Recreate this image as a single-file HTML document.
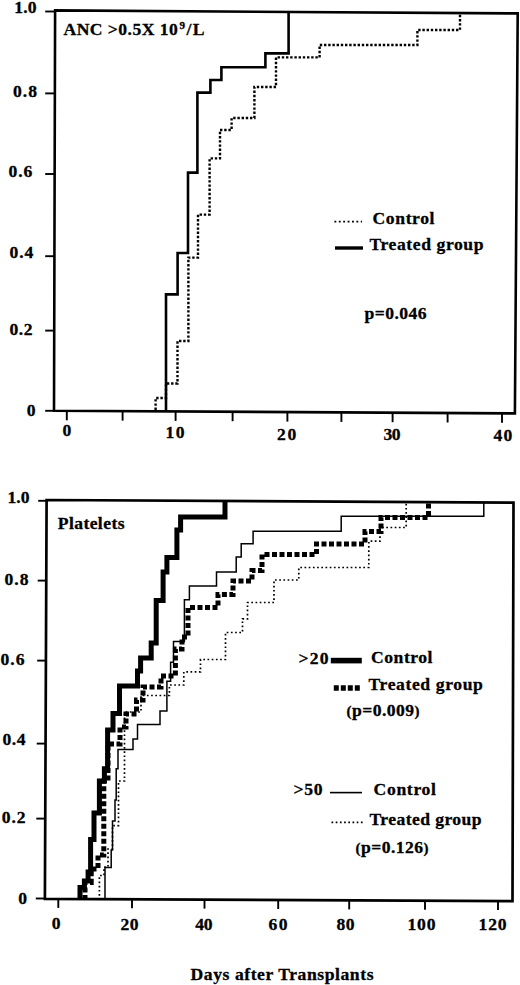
<!DOCTYPE html><html><head><meta charset="utf-8"><style>html,body{margin:0;padding:0;background:#fff;}svg{display:block;}text{font-weight:bold;fill:#000;stroke:#000;stroke-width:0.3px;}</style></head><body>
<svg width="520" height="985" viewBox="0 0 520 985">
<rect width="520" height="985" fill="#fff"/>
<polygon points="55.1,10.4 517.7,13.4 514.9,413.4 54.0,410.7" fill="none" stroke="#000" stroke-width="2.6" stroke-linejoin="miter"/>
<line x1="45.2" y1="11.5" x2="55.1" y2="11.5" stroke="#000" stroke-width="1.9"/>
<line x1="45.2" y1="93.4" x2="54.9" y2="93.4" stroke="#000" stroke-width="1.9"/>
<line x1="45.2" y1="174.0" x2="54.7" y2="174.0" stroke="#000" stroke-width="1.9"/>
<line x1="45.2" y1="256.2" x2="54.4" y2="256.2" stroke="#000" stroke-width="1.9"/>
<line x1="45.2" y1="330.6" x2="54.2" y2="330.6" stroke="#000" stroke-width="1.9"/>
<line x1="45.2" y1="410.8" x2="54.0" y2="410.8" stroke="#000" stroke-width="1.9"/>
<line x1="66.8" y1="410.8" x2="66.8" y2="420.3" stroke="#000" stroke-width="1.9"/>
<line x1="122.6" y1="411.1" x2="122.6" y2="420.6" stroke="#000" stroke-width="1.9"/>
<line x1="175.6" y1="411.4" x2="175.6" y2="420.9" stroke="#000" stroke-width="1.9"/>
<line x1="232.6" y1="411.7" x2="232.6" y2="421.2" stroke="#000" stroke-width="1.9"/>
<line x1="287.4" y1="412.1" x2="287.4" y2="421.6" stroke="#000" stroke-width="1.9"/>
<line x1="341.4" y1="412.4" x2="341.4" y2="421.9" stroke="#000" stroke-width="1.9"/>
<line x1="392.6" y1="412.7" x2="392.6" y2="422.2" stroke="#000" stroke-width="1.9"/>
<line x1="447.6" y1="413.0" x2="447.6" y2="422.5" stroke="#000" stroke-width="1.9"/>
<line x1="502.0" y1="413.3" x2="502.0" y2="422.8" stroke="#000" stroke-width="1.9"/>
<polyline points="166.0,411.0 166.0,294.4 177.6,294.4 177.6,253.0 188.0,253.0 188.0,172.6 197.4,172.6 197.4,92.6 210.4,92.6 210.4,80.0 221.4,80.0 221.4,67.3 265.4,67.3 265.4,53.4 288.6,53.4 288.6,11.5" fill="none" stroke="#000" stroke-width="2.6" stroke-linejoin="miter"/>
<polyline points="155.6,410.0 155.6,398.0 166.0,398.0 166.0,383.5 177.5,383.5 177.5,341.0 188.4,341.0 188.4,257.6 198.0,257.6 198.0,214.6 209.6,214.6 209.6,158.4 220.0,158.4 220.0,130.0 231.6,130.0 231.6,118.0 254.4,118.0 254.4,87.0 276.0,87.0 276.0,57.4 319.6,57.4 319.6,45.0 417.4,45.0 417.4,30.0 460.0,30.0 460.0,14.0" fill="none" stroke="#000" stroke-width="2.4" stroke-dasharray="2.4 1.8"/>
<line x1="334.4" y1="221.6" x2="362" y2="221.6" stroke="#000" stroke-width="1.9" stroke-dasharray="1.9 2.5"/>
<line x1="335" y1="248" x2="363" y2="248" stroke="#000" stroke-width="3.4"/>
<polygon points="46.6,500.0 513.5,502.7 512.5,901.2 44.9,898.8" fill="none" stroke="#000" stroke-width="2.7" stroke-linejoin="miter"/>
<line x1="38.2" y1="500.8" x2="46.6" y2="500.8" stroke="#000" stroke-width="1.9"/>
<line x1="37.7" y1="580.6" x2="46.3" y2="580.6" stroke="#000" stroke-width="1.9"/>
<line x1="37.2" y1="660.6" x2="45.9" y2="660.6" stroke="#000" stroke-width="1.9"/>
<line x1="36.7" y1="743.6" x2="45.6" y2="743.6" stroke="#000" stroke-width="1.9"/>
<line x1="36.3" y1="818.6" x2="45.2" y2="818.6" stroke="#000" stroke-width="1.9"/>
<line x1="35.8" y1="898.5" x2="44.9" y2="898.5" stroke="#000" stroke-width="1.9"/>
<line x1="58.3" y1="898.9" x2="58.3" y2="907.9" stroke="#000" stroke-width="1.9"/>
<line x1="132.0" y1="899.2" x2="132.0" y2="908.2" stroke="#000" stroke-width="1.9"/>
<line x1="204.5" y1="899.6" x2="204.5" y2="908.6" stroke="#000" stroke-width="1.9"/>
<line x1="278.2" y1="900.0" x2="278.2" y2="909.0" stroke="#000" stroke-width="1.9"/>
<line x1="349.2" y1="900.4" x2="349.2" y2="909.4" stroke="#000" stroke-width="1.9"/>
<line x1="425.0" y1="900.8" x2="425.0" y2="909.8" stroke="#000" stroke-width="1.9"/>
<line x1="498.0" y1="901.1" x2="498.0" y2="910.1" stroke="#000" stroke-width="1.9"/>
<polyline points="80.0,900.0 80.0,887.5 84.4,887.5 84.4,881.0 88.1,881.0 88.1,872.0 90.6,872.0 90.6,839.5 94.0,839.5 94.0,813.0 99.4,813.0 99.4,781.0 104.4,781.0 104.4,768.7 107.6,768.7 107.6,730.0 113.0,730.0 113.0,713.5 119.5,713.5 119.5,686.0 137.5,686.0 137.5,671.0 140.6,671.0 140.6,658.0 151.2,658.0 151.2,643.0 156.2,643.0 156.2,600.6 163.1,600.6 163.1,572.0 166.9,572.0 166.9,557.5 176.9,557.5 176.9,530.0 180.6,530.0 180.6,517.0 225.0,517.0 225.0,501.0" fill="none" stroke="#000" stroke-width="5" stroke-linejoin="miter"/>
<polyline points="85.0,900.0 85.0,882.5 91.2,882.5 91.2,869.0 98.0,869.0 98.0,855.0 103.8,855.0 103.8,781.0 108.0,781.0 108.0,744.0 120.0,744.0 120.0,727.0 126.0,727.0 126.0,714.0 136.5,714.0 136.5,700.0 143.0,700.0 143.0,687.0 161.0,687.0 161.0,676.0 175.4,676.0 175.4,649.0 182.0,649.0 182.0,637.0 188.0,637.0 188.0,607.5 218.0,607.5 218.0,594.4 233.0,594.4 233.0,581.0 252.0,581.0 252.0,570.5 262.0,570.5 262.0,554.5 316.5,554.5 316.5,544.0 365.0,544.0 365.0,531.5 381.0,531.5 381.0,517.5 428.5,517.5 428.5,502.0" fill="none" stroke="#000" stroke-width="5" stroke-dasharray="5 2.5"/>
<polyline points="105.0,900.0 105.0,867.5 111.2,867.5 111.2,850.0 112.5,850.0 112.5,821.0 115.0,821.0 115.0,800.0 116.2,800.0 116.2,768.8 118.0,768.8 118.0,749.4 133.0,749.4 133.0,739.0 137.5,739.0 137.5,724.4 160.0,724.4 160.0,711.0 166.9,711.0 166.9,681.2 170.6,681.2 170.6,662.3 173.5,662.3 173.5,641.5 184.4,641.5 184.4,599.8 189.4,599.8 189.4,586.0 216.5,586.0 216.5,571.9 236.2,571.9 236.2,556.9 241.2,556.9 241.2,543.8 253.1,543.8 253.1,531.2 341.2,531.2 341.2,516.2 483.8,516.2 483.8,502.0" fill="none" stroke="#000" stroke-width="1.5"/>
<polyline points="99.4,900.0 99.4,875.5 104.0,875.5 104.0,867.0 108.0,867.0 108.0,849.0 112.5,849.0 112.5,825.6 118.5,825.6 118.5,781.0 124.5,781.0 124.5,712.0 141.0,712.0 141.0,695.5 169.4,695.5 169.4,685.0 183.8,685.0 183.8,671.9 200.5,671.9 200.5,659.5 225.5,659.5 225.5,632.5 242.5,632.5 242.5,618.8 247.5,618.8 247.5,602.5 274.0,602.5 274.0,580.0 298.8,580.0 298.8,567.5 368.8,567.5 368.8,541.2 380.0,541.2 380.0,527.5 406.2,527.5 406.2,502.0" fill="none" stroke="#000" stroke-width="1.7" stroke-dasharray="1.7 2.5"/>
<line x1="330.8" y1="660.6" x2="361.8" y2="660.6" stroke="#000" stroke-width="5.6"/>
<line x1="333.8" y1="688" x2="361" y2="688" stroke="#000" stroke-width="5.5" stroke-dasharray="5 2"/>
<line x1="330" y1="792.6" x2="362" y2="792.6" stroke="#000" stroke-width="1.6"/>
<line x1="331.5" y1="822.3" x2="363" y2="822.3" stroke="#000" stroke-width="1.7" stroke-dasharray="1.7 2.5"/>
<text id="t_y10" x="14.24" y="13.00" font-size="17.60" textLength="22.39" lengthAdjust="spacing" style="font-family:'Liberation Serif', serif">1.0</text>
<text id="t_y08" x="13.05" y="97.00" font-size="17.60" textLength="23.95" lengthAdjust="spacing" style="font-family:'Liberation Serif', serif">0.8</text>
<text id="t_y06" x="8.53" y="177.40" font-size="17.60" textLength="23.69" lengthAdjust="spacing" style="font-family:'Liberation Serif', serif">0.6</text>
<text id="t_y04" x="9.53" y="257.60" font-size="17.60" textLength="23.69" lengthAdjust="spacing" style="font-family:'Liberation Serif', serif">0.4</text>
<text id="t_y02" x="9.50" y="334.60" font-size="17.60" textLength="23.00" lengthAdjust="spacing" style="font-family:'Liberation Serif', serif">0.2</text>
<text id="t_y00" x="26.81" y="416.00" font-size="17.60" textLength="14.40" lengthAdjust="spacing" style="font-family:'Liberation Serif', serif">0</text>
<text id="t_x0" x="62.61" y="436.00" font-size="17.60" textLength="9.74" lengthAdjust="spacing" style="font-family:'Liberation Serif', serif">0</text>
<text id="t_x10" x="165.41" y="438.00" font-size="17.60" textLength="19.12" lengthAdjust="spacing" style="font-family:'Liberation Serif', serif">10</text>
<text id="t_x20" x="277.03" y="439.50" font-size="17.60" textLength="19.24" lengthAdjust="spacing" style="font-family:'Liberation Serif', serif">20</text>
<text id="t_x30" x="383.50" y="440.00" font-size="17.60" textLength="17.07" lengthAdjust="spacing" style="font-family:'Liberation Serif', serif">30</text>
<text id="t_x40" x="493.47" y="441.00" font-size="17.60" textLength="18.71" lengthAdjust="spacing" style="font-family:'Liberation Serif', serif">40</text>
<text id="t_anc" x="63.49" y="34.50" font-size="17.60" textLength="114.20" lengthAdjust="spacing" style="font-family:'Liberation Serif', serif">ANC &gt;0.5X 10</text>
<text id="t_sup" x="179.46" y="29.00" font-size="11.00" textLength="8.60" lengthAdjust="spacing" style="font-family:'Liberation Serif', serif">9</text>
<text id="t_sl" x="186.50" y="34.50" font-size="17.60" textLength="18.07" lengthAdjust="spacing" style="font-family:'Liberation Serif', serif">/L</text>
<text id="t_ctl" x="372.49" y="224.40" font-size="17.60" textLength="62.01" lengthAdjust="spacing" style="font-family:'Liberation Serif', serif">Control</text>
<text id="t_trt" x="369.50" y="250.40" font-size="17.60" textLength="114.00" lengthAdjust="spacing" style="font-family:'Liberation Serif', serif">Treated group</text>
<text id="t_p" x="364.46" y="319.00" font-size="17.60" textLength="62.04" lengthAdjust="spacing" style="font-family:'Liberation Serif', serif">p=0.046</text>
<text id="b_y10" x="7.38" y="503.00" font-size="17.60" textLength="22.23" lengthAdjust="spacing" style="font-family:'Liberation Serif', serif">1.0</text>
<text id="b_y08" x="4.50" y="584.60" font-size="17.60" textLength="24.00" lengthAdjust="spacing" style="font-family:'Liberation Serif', serif">0.8</text>
<text id="b_y06" x="0.50" y="665.00" font-size="17.60" textLength="24.00" lengthAdjust="spacing" style="font-family:'Liberation Serif', serif">0.6</text>
<text id="b_y04" x="2.50" y="745.00" font-size="17.60" textLength="23.05" lengthAdjust="spacing" style="font-family:'Liberation Serif', serif">0.4</text>
<text id="b_y02" x="1.81" y="822.50" font-size="17.60" textLength="23.67" lengthAdjust="spacing" style="font-family:'Liberation Serif', serif">0.2</text>
<text id="b_y00" x="18.30" y="904.00" font-size="17.60" textLength="12.46" lengthAdjust="spacing" style="font-family:'Liberation Serif', serif">0</text>
<text id="b_x0" x="51.67" y="929.00" font-size="17.60" textLength="8.52" lengthAdjust="spacing" style="font-family:'Liberation Serif', serif">0</text>
<text id="b_x20" x="120.41" y="929.50" font-size="17.60" textLength="18.08" lengthAdjust="spacing" style="font-family:'Liberation Serif', serif">20</text>
<text id="b_x40" x="195.35" y="930.00" font-size="17.60" textLength="17.30" lengthAdjust="spacing" style="font-family:'Liberation Serif', serif">40</text>
<text id="b_x60" x="268.40" y="930.00" font-size="17.60" textLength="19.12" lengthAdjust="spacing" style="font-family:'Liberation Serif', serif">60</text>
<text id="b_x80" x="336.53" y="930.00" font-size="17.60" textLength="18.12" lengthAdjust="spacing" style="font-family:'Liberation Serif', serif">80</text>
<text id="b_x100" x="407.38" y="930.00" font-size="17.60" textLength="28.14" lengthAdjust="spacing" style="font-family:'Liberation Serif', serif">100</text>
<text id="b_x120" x="478.48" y="930.00" font-size="17.60" textLength="28.12" lengthAdjust="spacing" style="font-family:'Liberation Serif', serif">120</text>
<text id="b_plt" x="57.72" y="528.60" font-size="17.60" textLength="66.80" lengthAdjust="spacing" style="font-family:'Liberation Serif', serif">Platelets</text>
<text id="b_g20" x="298.47" y="664.00" font-size="17.60" textLength="30.03" lengthAdjust="spacing" style="font-family:'Liberation Serif', serif">&gt;20</text>
<text id="b_c20" x="371.07" y="663.40" font-size="17.60" textLength="61.43" lengthAdjust="spacing" style="font-family:'Liberation Serif', serif">Control</text>
<text id="b_t20" x="368.50" y="690.20" font-size="17.60" textLength="114.40" lengthAdjust="spacing" style="font-family:'Liberation Serif', serif">Treated group</text>
<text id="b_p20" x="346.50" y="716.00" font-size="17.60" textLength="73.00" lengthAdjust="spacing" style="font-family:'Liberation Serif', serif"><tspan font-size="15">(</tspan>p=0.009<tspan font-size="15">)</tspan></text>
<text id="b_g50" x="293.46" y="795.00" font-size="17.60" textLength="29.03" lengthAdjust="spacing" style="font-family:'Liberation Serif', serif">&gt;50</text>
<text id="b_c50" x="373.49" y="795.00" font-size="17.60" textLength="62.48" lengthAdjust="spacing" style="font-family:'Liberation Serif', serif">Control</text>
<text id="b_t50" x="369.50" y="825.00" font-size="17.60" textLength="112.00" lengthAdjust="spacing" style="font-family:'Liberation Serif', serif">Treated group</text>
<text id="b_p50" x="355.50" y="853.00" font-size="17.60" textLength="73.00" lengthAdjust="spacing" style="font-family:'Liberation Serif', serif"><tspan font-size="15">(</tspan>p=0.126<tspan font-size="15">)</tspan></text>
<text id="b_days" x="190.50" y="980.00" font-size="17.60" textLength="183.00" lengthAdjust="spacing" style="font-family:'Liberation Serif', serif">Days after Transplants</text>
</svg></body></html>
